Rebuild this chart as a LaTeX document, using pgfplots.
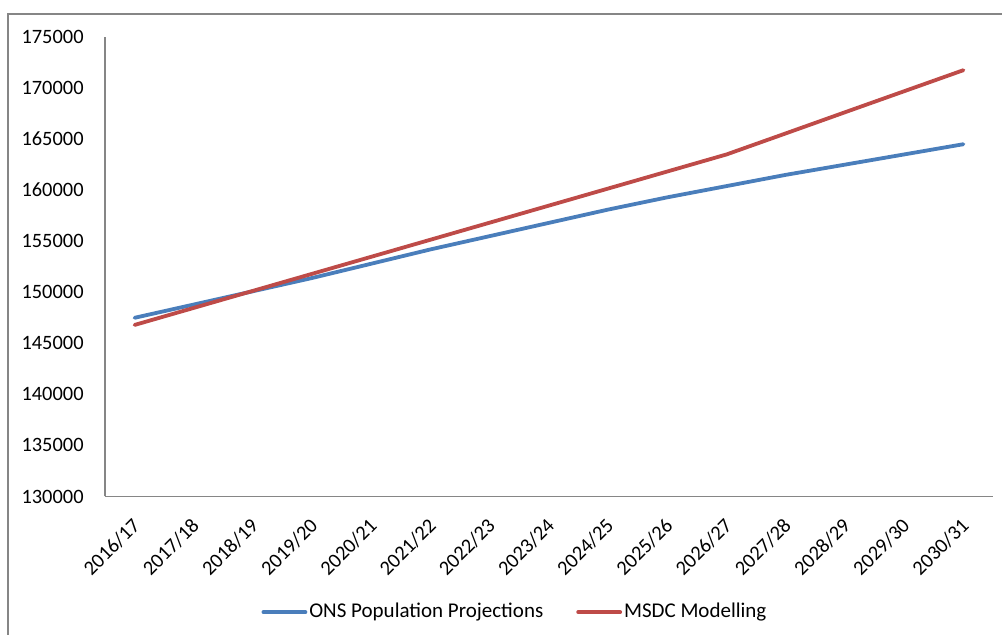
\documentclass[border=0pt]{standalone}
\usepackage{fontspec}
\setmainfont{Carlito}
\usepackage{pgfplots}
\pgfplotsset{compat=1.18}
\definecolor{onsblue}{HTML}{4A7EBB}
\definecolor{msdcred}{HTML}{BE4B48}
\definecolor{axgray}{HTML}{868686}
\begin{document}
\begin{tikzpicture}
\begin{axis}[
  at={(52.5pt,69.25pt)}, anchor=south west,
  scale only axis, width=444pt, height=229.75pt,
  xmin=-0.5, xmax=14.5, ymin=130000, ymax=175000,
  xtick={0,1,2,3,4,5,6,7,8,9,10,11,12,13,14},
  xticklabels={2016/17,2017/18,2018/19,2019/20,2020/21,2021/22,2022/23,2023/24,2024/25,2025/26,2026/27,2027/28,2028/29,2029/30,2030/31},
  ytick={130000,135000,140000,145000,150000,155000,160000,165000,170000,175000},
  yticklabels={130000,135000,140000,145000,150000,155000,160000,165000,170000,175000},
  scaled y ticks=false,
  major tick length=0pt,
  axis lines=left,
  axis line style={-, draw=axgray, line width=0.6pt},
  tick label style={font=\fontsize{10.2}{12}\selectfont, text=black},
  yticklabel style={anchor=east, inner sep=0pt, xshift=-10.5pt},
  xticklabel style={rotate=45, anchor=north east, inner sep=0pt, xshift=-8.3pt, yshift=-5.8pt},
  legend columns=2,
  legend style={at={(0.4617,-0.2517)}, anchor=center, draw=none, fill=none,
    font=\fontsize{10.5}{12}\selectfont,
    /tikz/every even column/.append style={column sep=15.5pt},
    nodes={inner sep=1pt}},
  legend image code/.code={\draw[#1] (0pt,0pt) -- (21pt,0pt);},
  every axis plot/.append style={line width=1.9pt, line cap=round, line join=round},
]
\addplot[onsblue] coordinates {
(0,147500) (1,148800) (2,150100) (3,151400) (4,152800) (5,154200) (6,155500) (7,156800) (8,158100) (9,159300) (10,160400) (11,161500) (12,162500) (13,163500) (14,164500)};
\addlegendentry{ONS Population Projections}
\addplot[msdcred] coordinates {
(0,146800) (1,148470) (2,150140) (3,151810) (4,153480) (5,155150) (6,156820) (7,158490) (8,160160) (9,161830) (10,163500) (11,165560) (12,167630) (13,169690) (14,171750)};
\addlegendentry{MSDC Modelling}
\end{axis}
\draw[color=axgray, line width=0.6pt] (4pt,-2pt) -- (4pt,310.5pt) -- (503pt,310.5pt);
\pgfresetboundingbox
\useasboundingbox (0,0) rectangle (501pt,317.5pt);
\end{tikzpicture}
\end{document}
